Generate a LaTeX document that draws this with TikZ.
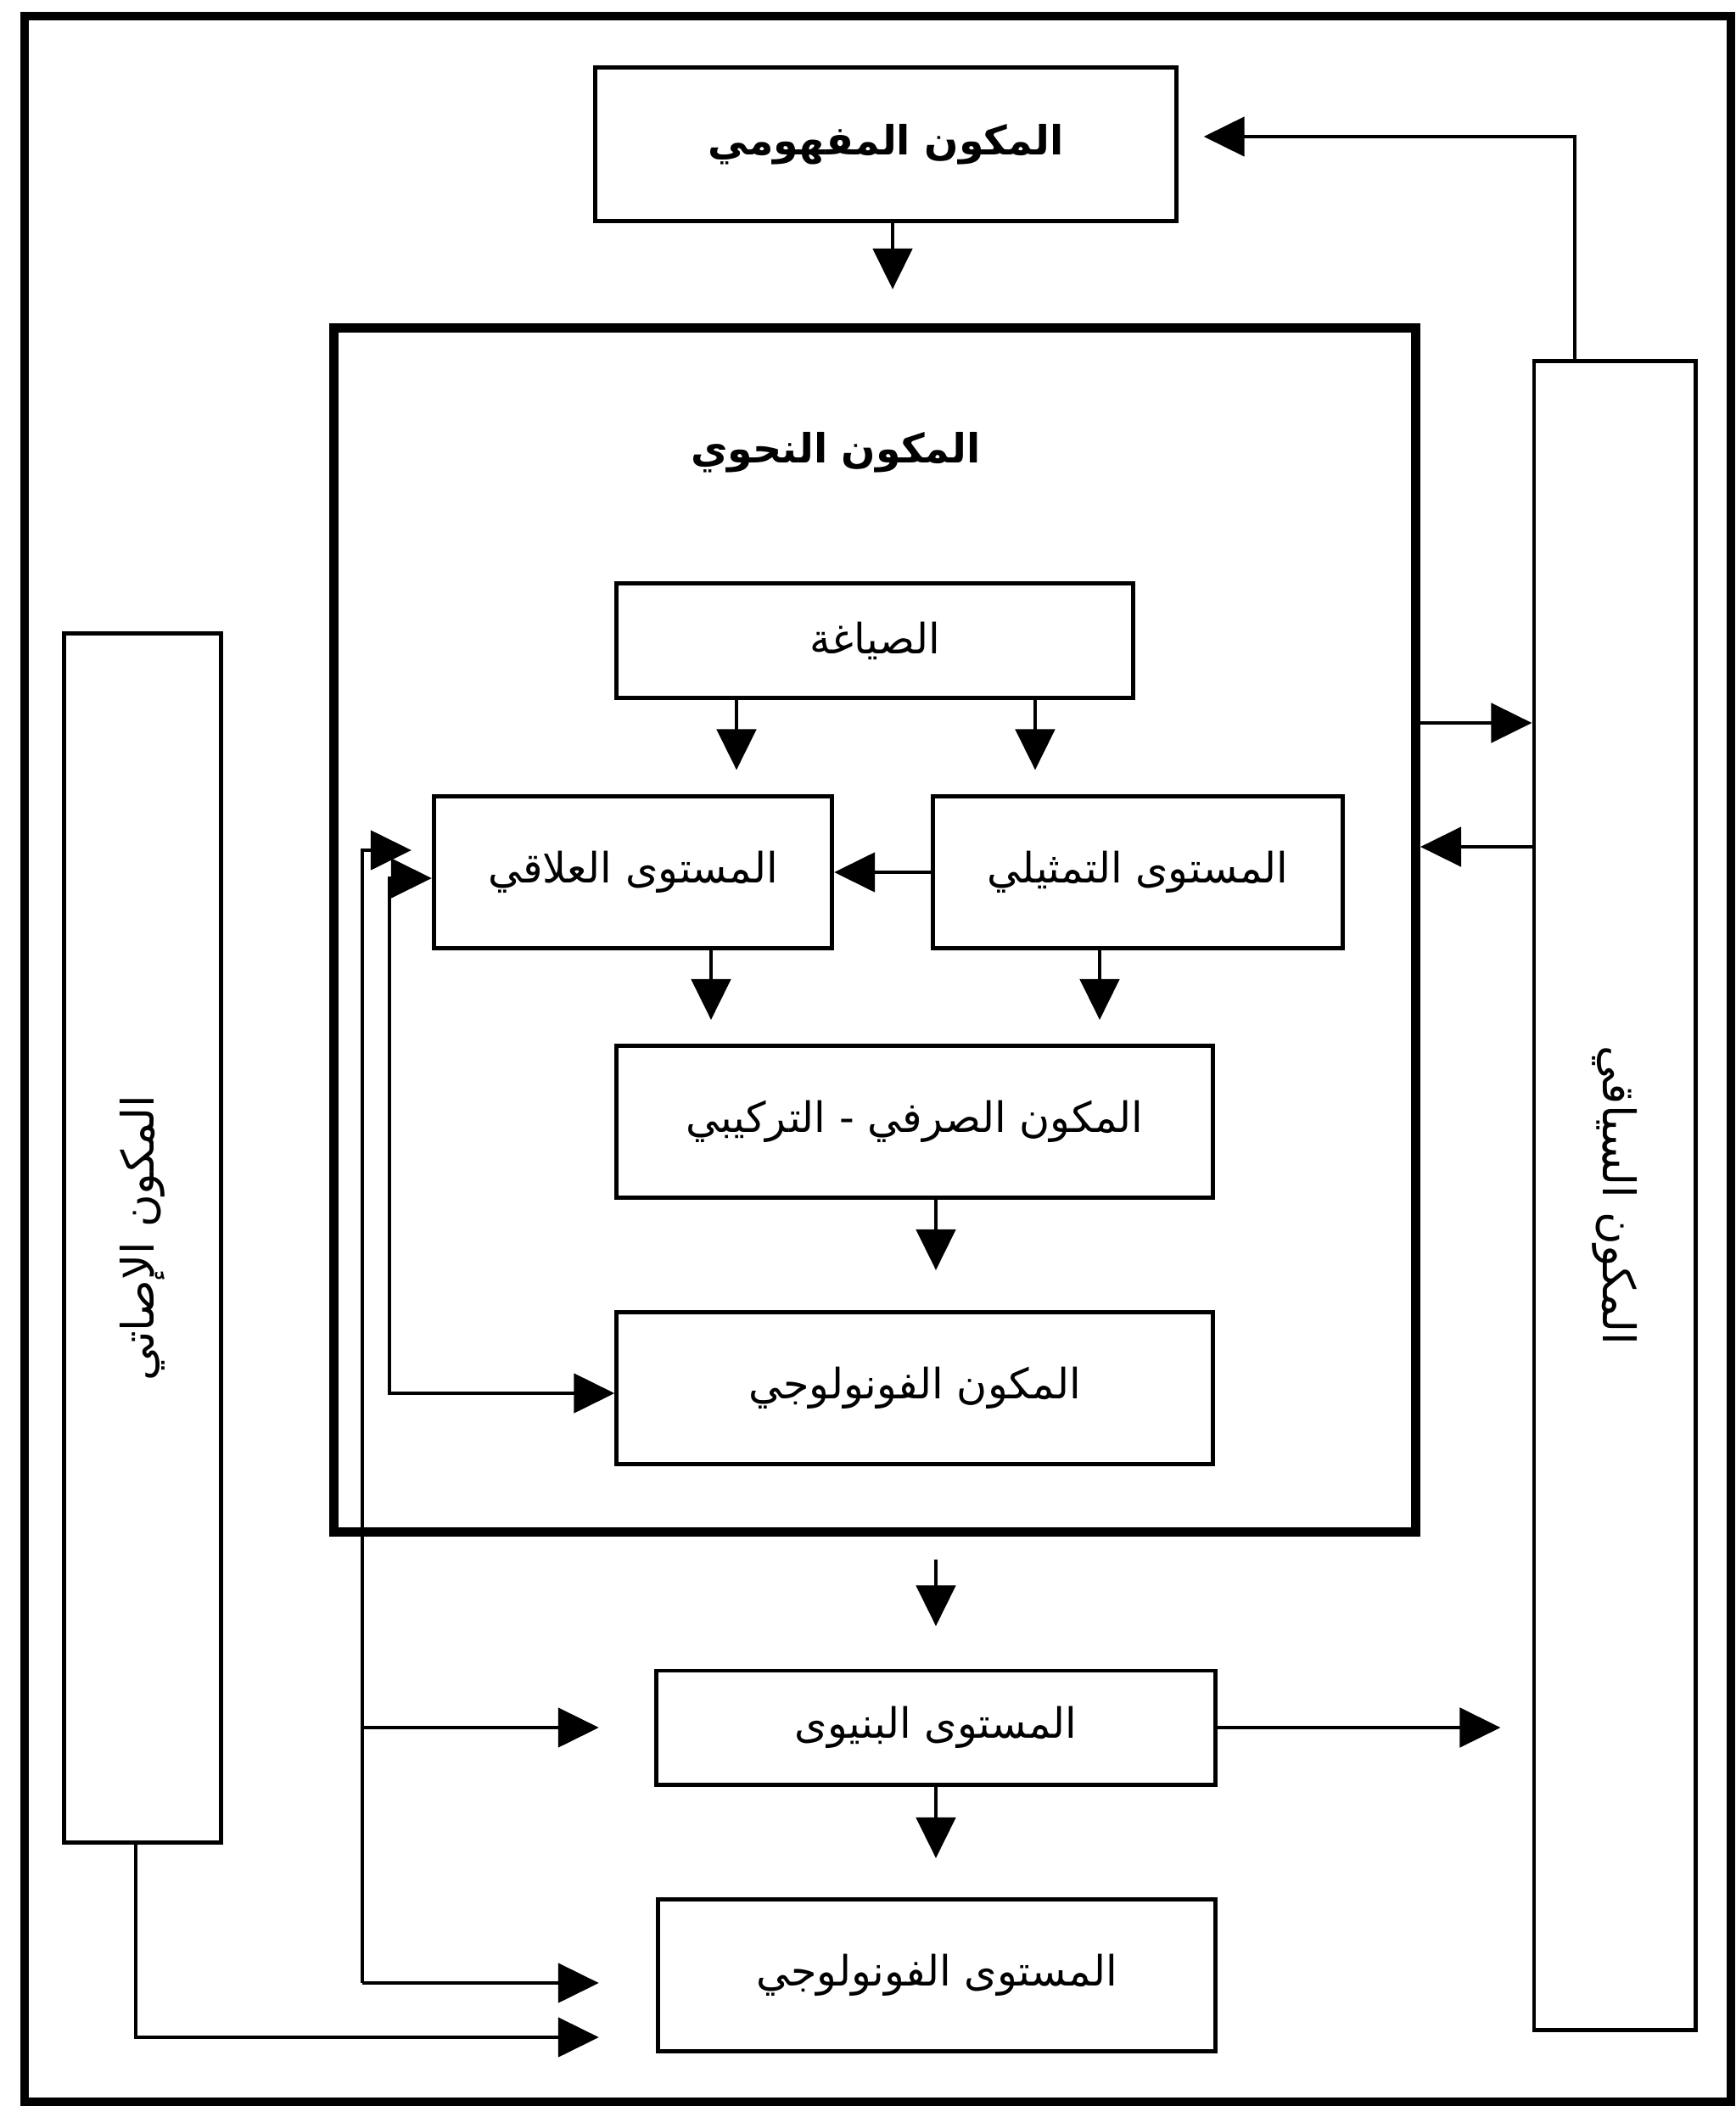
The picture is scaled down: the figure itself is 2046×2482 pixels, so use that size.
\documentclass[tikz,border=0pt]{standalone}
\usepackage{fontspec}
\newfontfamily\arabicfont[Script=Arabic]{DejaVu Sans}
\TeXXeTstate=1
\usetikzlibrary{arrows.meta}
\newcommand{\artxt}[1]{\beginR #1\endR}
\tikzset{
	box/.style={draw, line width=1.4pt, inner sep=0pt, align=center,
		font=\arabicfont\fontsize{14}{16}\selectfont},
	bigbox/.style={draw, line width=3.2pt, inner sep=0pt},
	heading/.style={font=\arabicfont\bfseries\fontsize{13.5}{16}\selectfont},
	vtext/.style={font=\arabicfont\fontsize{15}{17}\selectfont},
	arr/.style={line width=1.4pt, -{Triangle[length=4.8mm, width=4.6mm]}},
	dblarr/.style={line width=1.4pt, {Triangle[length=4.8mm, width=4.6mm]}-{Triangle[length=4.8mm, width=4.6mm]}}
}
\begin{document}
\begin{tikzpicture}[x=0.01cm, y=-0.01cm]
	\useasboundingbox (0,0) rectangle (2046,2482);
	\draw[line width=2.8pt] (29,19) rectangle (2040,2477);
	% boxes
	\node[box, heading, minimum width=6.84cm, minimum height=1.80cm] (mafhumi) at (1044,170) {\artxt{المكون المفهومي}};
	\node[bigbox, minimum width=12.74cm, minimum height=14.18cm] (nahwi) at (1031,1096) {};
	\node[heading] (nahwititle) at (985,533) {\artxt{المكون النحوي}};
	\node[box, minimum width=6.08cm, minimum height=1.35cm] (siyagha) at (1031,755) {\artxt{الصياغة}};
	\node[box, minimum width=4.69cm, minimum height=1.78cm] (alaqi) at (746,1028) {\artxt{المستوى العلاقي}};
	\node[box, minimum width=4.83cm, minimum height=1.78cm] (tamthili) at (1341,1028) {\artxt{المستوى التمثيلي}};
	\node[box, minimum width=7.02cm, minimum height=1.79cm] (sarfi) at (1078,1322) {\artxt{المكون الصرفي - التركيبي}};
	\node[box, minimum width=7.02cm, minimum height=1.79cm] (fonocomp) at (1078,1636) {\artxt{المكون الفونولوجي}};
	\node[box, minimum width=6.59cm, minimum height=1.34cm] (binyawi) at (1103,2036) {\artxt{المستوى البنيوى}};
	\node[box, minimum width=6.57cm, minimum height=1.79cm] (fonolevel) at (1104,2328) {\artxt{المستوى الفونولوجي}};
	\node[box, minimum width=1.85cm, minimum height=14.24cm] (isati) at (168,1459) {};
	\node[vtext, rotate=90] (isatitext) at (isati) {\artxt{المكون الإصاتي}};
	\node[box, minimum width=1.90cm, minimum height=19.66cm] (siyaqi) at (1903,1409) {};
	\node[vtext, rotate=-90] (siyaqitext) at (siyaqi) {\artxt{المكون السياقي}};
	% guide points
	\coordinate (xtop) at (1052,0);
	\coordinate (fb) at (1856,161);
	\coordinate (xa) at (868,0);
	\coordinate (xb) at (1220,0);
	\coordinate (xc) at (838,0);
	\coordinate (xd) at (1296,0);
	\coordinate (xe) at (1103,0);
	\coordinate (ya) at (0,852);
	\coordinate (yb) at (0,998);
	\coordinate (busT) at (427,1002);
	\coordinate (busB) at (427,2337);
	\coordinate (innT) at (459,1035);
	\coordinate (innB) at (459,1642);
	\coordinate (lb) at (160,2401);
	% arrows
	\draw[arr, shorten >=4mm] (mafhumi.south -| xtop) -- (nahwi.north -| xtop);
	\draw[arr, shorten >=3mm] (siyaqi.north -| fb) -- (fb) -- (mafhumi.east |- fb);
	\foreach \c/\t in {xa/alaqi, xb/tamthili}
	\draw[arr, shorten >=2.9mm] (siyagha.south -| \c) -- (\t.north -| \c);
	\draw[arr] (tamthili.west) -- (alaqi.east);
	\draw[arr, shorten >=2.8mm] (alaqi.south -| xc) -- (sarfi.north -| xc);
	\draw[arr, shorten >=2.8mm] (tamthili.south -| xd) -- (sarfi.north -| xd);
	\draw[arr, shorten >=4.7mm] (sarfi.south -| xe) -- (fonocomp.north -| xe);
	\draw[arr, shorten <=2.7mm, shorten >=5mm] (nahwi.south -| xe) -- (binyawi.north -| xe);
	\draw[arr, shorten >=4.6mm] (binyawi.south -| xe) -- (fonolevel.north -| xe);
	\draw[arr] (nahwi.east |- ya) -- (siyaqi.west |- ya);
	\draw[arr] (siyaqi.west |- yb) -- (nahwi.east |- yb);
	\draw[arr, shorten >=3.7mm] (binyawi.east) -- (siyaqi.west |- binyawi.east);
	\draw[arr, shorten >=2.4mm] (busB) -- (busT) -- (alaqi.west |- busT);
	\draw[arr, shorten >=6.5mm] (busB |- binyawi.west) -- (binyawi.west);
	\draw[arr, shorten >=6.7mm] (busB) -- (fonolevel.west |- busB);
	\draw[dblarr] (alaqi.west |- innT) -- (innT) -- (innB) -- (fonocomp.west |- innB);
	\draw[arr, shorten >=6.7mm] (isati.south -| lb) -- (lb) -- (fonolevel.west |- lb);
\end{tikzpicture}
\end{document}
